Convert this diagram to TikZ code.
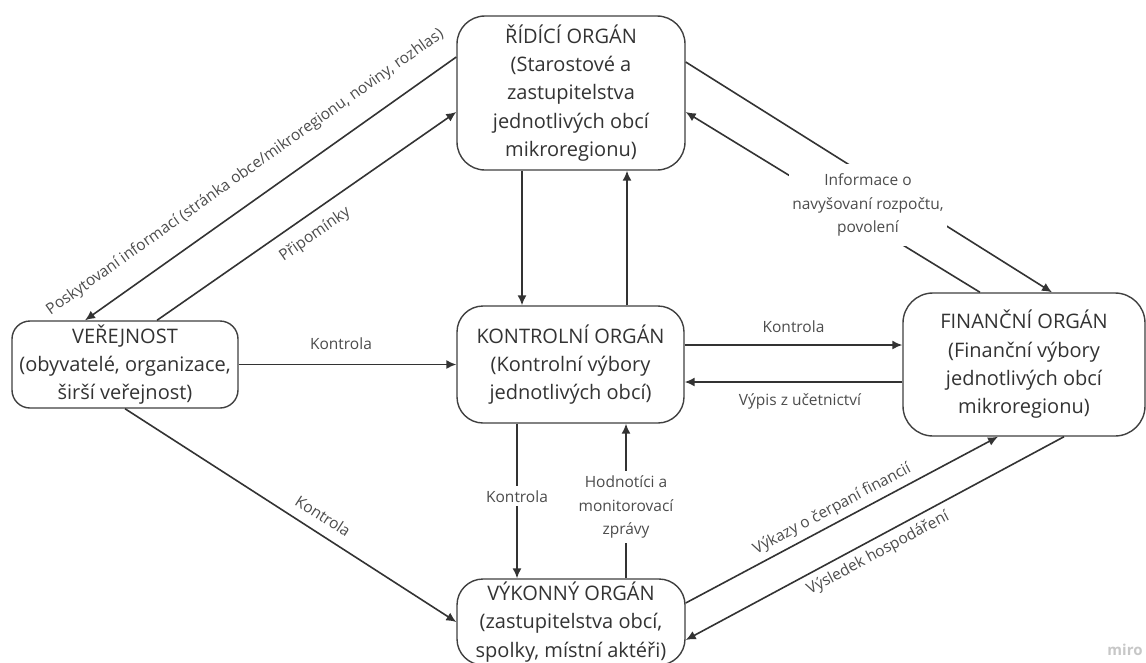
\documentclass[tikz,border=0pt]{standalone}
\usepackage{fontspec}
\setmainfont{Open Sans}
\usetikzlibrary{arrows.meta, calc}

\begin{document}
\begin{tikzpicture}[x=1pt, y=-1pt,
  organ/.style={draw=black!75, line width=1.4pt, rounded corners=#1, align=center,
    inner sep=0pt, text=black!80, font=\fontsize{20}{28.3}\selectfont},
  organ/.default=26pt,
  flow/.style={draw=black!80, line width=1.6pt, -{Latex[length=10pt,width=9pt]}},
  lbl/.style={font=\fontsize{15.5}{23.5}\selectfont, text=black!70, align=center}]

  \useasboundingbox (0,0) rectangle (1146,662);
  \fill[white] (0,0) rectangle (1146,662);

  \node[organ=28pt, minimum width=228pt, minimum height=154pt] (ridici) at (571,93)
    {ŘÍDÍCÍ ORGÁN\\(Starostové a\\zastupitelstva\\jednotlivých obcí\\mikroregionu)};
  \node[organ=18pt, minimum width=226pt, minimum height=87pt] (verejnost) at (125,364.5)
    {VEŘEJNOST\\(obyvatelé, organizace,\\širší veřejnost)};
  \node[organ=26pt, minimum width=227pt, minimum height=117pt] (kontrolni) at (570.5,364.5)
    {KONTROLNÍ ORGÁN\\(Kontrolní výbory\\jednotlivých obcí)};
  \node[organ=30pt, minimum width=242pt, minimum height=143pt] (financni) at (1024,364.5)
    {FINANČNÍ ORGÁN\\(Finanční výbory\\jednotlivých obcí\\mikroregionu)};
  \node[organ=26pt, minimum width=228pt, minimum height=86pt] (vykonny) at (571,622)
    {VÝKONNÝ ORGÁN\\(zastupitelstva obcí,\\spolky, místní aktéři)};

  % verejnost <-> ridici
  \draw[flow] ([yshift=36pt]ridici.west) -- ([xshift=-40pt]verejnost.north)
    node[lbl, pos=0.525, sloped, above=16pt] {Poskytovaní informací (stránka obce/mikroregionu, noviny, rozhlas)};
  \draw[flow] ([xshift=32pt]verejnost.north) -- ([yshift=-19pt]ridici.west)
    node[lbl, pos=0.49, sloped, below=8pt] {Připomínky};

  % verejnost -> kontrolni, vykonny
  \draw[flow] (verejnost.east) -- (kontrolni.west)
    node[lbl, pos=0.47, above=11pt] {Kontrola};
  \draw[flow] (verejnost.south) -- (vykonny.west)
    node[lbl, pos=0.57, sloped, above=7pt] {Kontrola};

  % ridici <-> kontrolni
  \draw[flow] ([xshift=-49pt]ridici.south) -- ([xshift=-48.5pt]kontrolni.north);
  \draw[flow] ([xshift=56.5pt]kontrolni.north) -- ([xshift=56pt]ridici.south);

  % kontrolni <-> financni
  \draw[flow] ([yshift=19.5pt]kontrolni.east) -- ([yshift=19.5pt]financni.west)
    node[lbl, midway, above=8pt] {Kontrola};
  \draw[flow] ([yshift=-17.5pt]financni.west) -- ([yshift=-17.5pt]kontrolni.east)
    node[lbl, pos=0.47, below=7pt] {Výpis z učetnictví};

  % kontrolni <-> vykonny
  \draw[flow] ([xshift=-53.5pt]kontrolni.south) -- ([xshift=-54pt]vykonny.north)
    node[lbl, pos=0.47, fill=white, inner xsep=2pt, inner ysep=4pt] {Kontrola};
  \draw[flow] ([xshift=55pt]vykonny.north) -- ([xshift=55.5pt]kontrolni.south)
    node[lbl, pos=0.46, fill=white, inner xsep=2pt, inner ysep=5pt] {Hodnotíci a\\monitorovací\\zprávy};

  % vykonny <-> financni
  \draw[flow] ([yshift=19pt]vykonny.east) -- ([xshift=-26pt]financni.south)
    node[lbl, pos=0.49, sloped, above=2pt] {Výkazy o čerpaní financií};
  \draw[flow] ([xshift=40pt]financni.south) -- ([yshift=-18pt]vykonny.east)
    node[lbl, pos=0.51, sloped, below=3pt] {Výsledek hospodáření};

  % ridici <-> financni
  \draw[flow] ([yshift=31pt]ridici.east) -- ([xshift=28pt]financni.north);
  \draw[flow] ([xshift=-44pt]financni.north) -- ([yshift=-19pt]ridici.east);
  \node[lbl, fill=white, inner xsep=3pt, inner ysep=10pt] (rozpocet) at (868,205)
    {Informace o\\navyšovaní rozpočtu,\\povolení};

  \node[font=\bfseries\fontsize{15}{15}\selectfont, text=black!22] (miro) at (1125,650) {miro};
\end{tikzpicture}
\end{document}
